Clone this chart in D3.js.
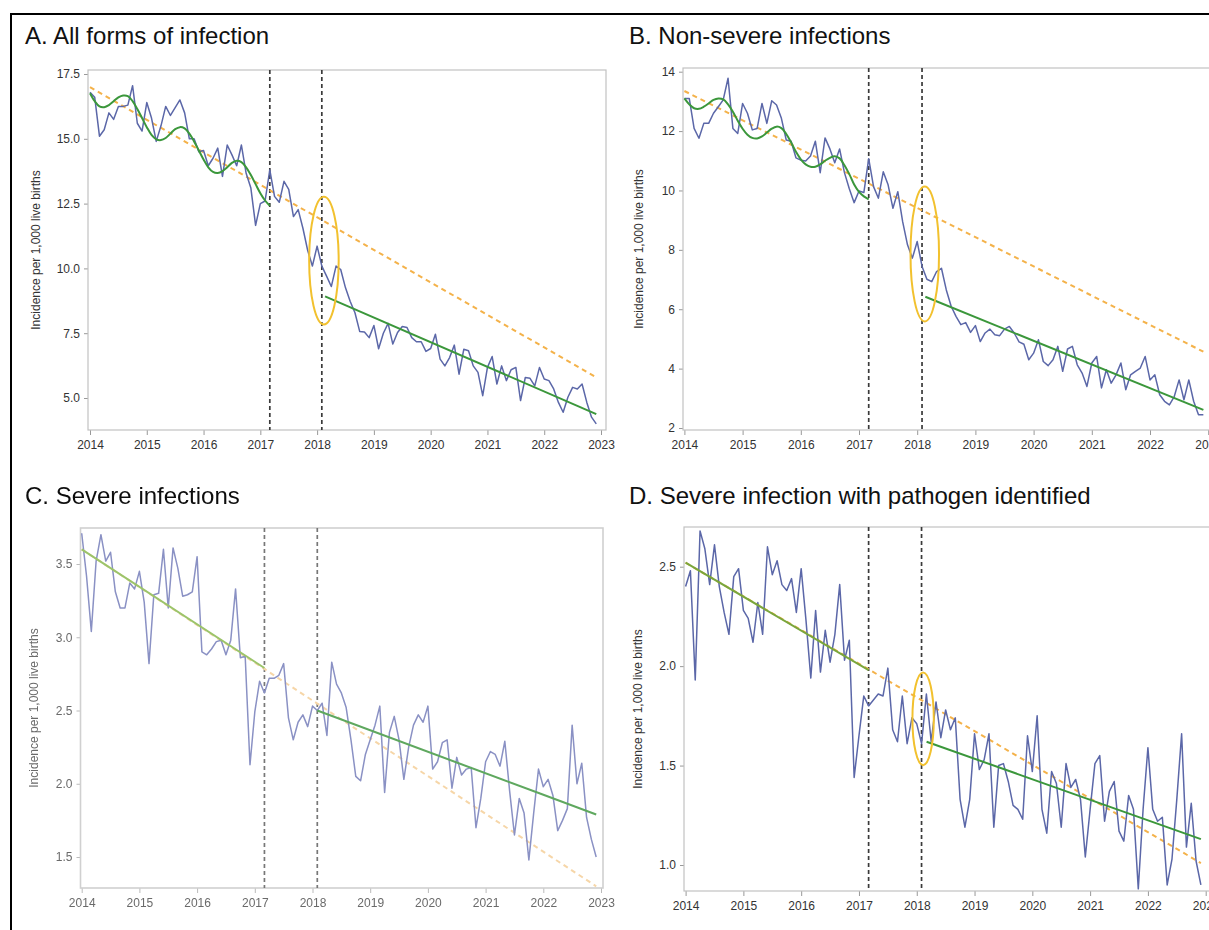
<!DOCTYPE html>
<html>
<head>
  <meta charset="utf-8">
  <title>Incidence per 1,000 live births, interrupted time series</title>
  <style>
    body { margin: 0; background: #fff; }
    svg { display: block; font-family: "Liberation Sans", Arial, sans-serif; }
    .tick text { font-size: 12px; }
  </style>
  <script src="https://cdn.jsdelivr.net/npm/d3@7"></script>
</head>
<body>
<script>
// monthly data, Jan 2014 .. Dec 2022 (108 months)
var monthIndex = d3.range(108);

var aSeries = [
  16.8, 16.6, 15.1, 15.35, 16.0, 15.75, 16.25, 16.25, 16.3, 17.05, 15.6, 15.3,
  16.4, 15.8, 14.9, 15.5, 16.25, 15.9, 16.2, 16.5, 16.0, 15.0, 15.0, 14.5,
  14.55, 13.96, 14.25, 14.64, 13.55, 14.76, 14.38, 13.96, 14.76, 13.67, 13.1, 11.66,
  12.5, 12.6, 13.8, 12.78, 12.55, 13.36, 13.05, 12.0, 12.27, 11.55, 10.7, 10.09,
  10.86, 10.09, 9.7, 9.3, 10.09, 9.95, 9.25, 8.72, 8.29, 7.57, 7.55, 7.33,
  7.8, 6.9, 7.5, 7.88, 7.08, 7.53, 7.76, 7.72, 7.33, 7.17, 7.17, 6.8,
  6.91, 7.46, 6.5, 6.24, 6.56, 7.04, 5.92, 6.88, 6.82, 6.24, 5.99, 5.09,
  6.18, 6.6, 5.54, 6.24, 5.67, 6.09, 6.18, 4.9, 5.79, 5.76, 5.47, 6.18,
  5.73, 5.67, 5.35, 4.83, 4.45, 5.03, 5.41, 5.35, 5.54, 4.83, 4.26, 4.0
];
var bSeries = [
  13.1, 13.1, 12.09, 11.76, 12.26, 12.26, 12.6, 12.82, 13.05, 13.78, 12.09, 11.92,
  12.93, 12.6, 12.04, 12.09, 12.93, 12.26, 13.02, 12.88, 12.43, 11.7, 11.66, 11.1,
  11.02, 10.99, 11.16, 11.66, 10.6, 11.77, 11.4, 10.93, 11.4, 10.6, 10.06, 9.59,
  9.98, 9.93, 11.07, 10.13, 9.74, 10.63, 10.19, 9.4, 9.96, 8.95, 8.17, 7.72,
  8.28, 7.44, 7.01, 6.93, 7.27, 7.38, 6.65, 6.1, 5.76, 5.48, 5.55, 5.22,
  5.45, 4.91, 5.2, 5.33, 5.14, 5.11, 5.33, 5.42, 5.2, 4.9, 4.82, 4.3,
  4.52, 4.97, 4.24, 4.1, 4.3, 4.75, 3.91, 4.66, 4.75, 4.13, 3.85, 3.4,
  4.19, 4.41, 3.35, 3.96, 3.51, 3.79, 4.19, 3.29, 3.79, 3.91, 4.02, 4.41,
  3.62, 3.79, 3.12, 2.9, 2.78, 3.06, 3.62, 2.95, 3.62, 2.9, 2.45, 2.45
];
var cSeries = [
  3.71, 3.42, 3.04, 3.52, 3.70, 3.52, 3.58, 3.31, 3.20, 3.20, 3.37, 3.33,
  3.45, 3.24, 2.82, 3.29, 3.30, 3.60, 3.20, 3.61, 3.47, 3.28, 3.29, 3.31,
  3.55, 2.90, 2.88, 2.92, 2.97, 2.98, 2.88, 2.98, 3.33, 2.86, 2.87, 2.13,
  2.49, 2.70, 2.62, 2.72, 2.72, 2.74, 2.82, 2.45, 2.30, 2.42, 2.47, 2.39,
  2.53, 2.50, 2.55, 2.33, 2.83, 2.68, 2.62, 2.52, 2.30, 2.05, 2.02, 2.20,
  2.30, 2.40, 2.53, 1.94, 2.35, 2.46, 2.30, 2.03, 2.25, 2.40, 2.47, 2.42,
  2.53, 2.10, 2.15, 2.28, 2.30, 1.97, 2.18, 2.06, 2.10, 2.11, 1.70, 1.90,
  2.15, 2.22, 2.20, 2.12, 2.29, 1.95, 1.65, 1.90, 1.80, 1.48, 1.80, 2.10,
  1.98, 2.03, 1.92, 1.68, 1.75, 1.83, 2.40, 2.00, 2.14, 1.77, 1.62, 1.50
];
var dSeries = [
  2.40, 2.48, 1.93, 2.68, 2.59, 2.41, 2.61, 2.40, 2.27, 2.16, 2.45, 2.49,
  2.28, 2.24, 2.12, 2.32, 2.16, 2.60, 2.46, 2.53, 2.41, 2.38, 2.44, 2.27,
  2.49, 2.23, 1.94, 2.28, 1.97, 2.18, 2.02, 2.16, 2.41, 2.03, 2.13, 1.44,
  1.65, 1.85, 1.80, 1.83, 1.86, 1.85, 1.99, 1.68, 1.62, 1.85, 1.61, 1.74,
  1.71, 1.61, 1.86, 1.62, 1.82, 1.64, 1.78, 1.68, 1.74, 1.33, 1.19, 1.33,
  1.66, 1.48, 1.53, 1.66, 1.19, 1.50, 1.51, 1.42, 1.30, 1.28, 1.23, 1.65,
  1.47, 1.75, 1.28, 1.16, 1.47, 1.41, 1.19, 1.51, 1.39, 1.43, 1.33, 1.04,
  1.28, 1.51, 1.55, 1.22, 1.37, 1.42, 1.17, 1.12, 1.35, 1.28, 0.88, 1.28,
  1.59, 1.28, 1.22, 1.24, 0.90, 1.03, 1.33, 1.66, 1.09, 1.31, 1.02, 0.90
];

// seasonal pre-intervention fits (Jan 2014 .. Mar 2017)
var aPreFit = [
  16.76, 16.45, 16.25, 16.22, 16.3, 16.45, 16.6, 16.67, 16.65, 16.45, 16.15, 15.8,
  15.45, 15.15, 14.98, 14.95, 15.03, 15.2, 15.37, 15.45, 15.4, 15.2, 14.9, 14.55,
  14.2, 13.9, 13.72, 13.68, 13.75, 13.9, 14.07, 14.15, 14.1, 13.9, 13.6, 13.25,
  12.9, 12.62, 12.42
];
var bPreFit = [
  13.1, 12.9, 12.77, 12.75, 12.82, 12.93, 13.05, 13.1, 13.07, 12.9, 12.65, 12.35,
  12.08, 11.88, 11.77, 11.75, 11.82, 11.95, 12.08, 12.15, 12.1, 11.9, 11.62, 11.3,
  11.05, 10.88, 10.8, 10.8, 10.88, 11.0, 11.1, 11.15, 11.08, 10.85, 10.55, 10.2,
  9.95, 9.8, 9.7
];
var cPreFit = [[2014, 3.60], [2017.167, 2.79]];
var dPreFit = [[2014, 2.52], [2017.167, 1.98]];

// linear fits: counterfactual (dashed) and post-intervention (solid)
var aCounter = [[2014, 16.99], [2022.917, 5.8]];
var bCounter = [[2014, 13.35], [2022.917, 4.57]];
var cCounter = [[2014, 3.60], [2022.917, 1.30]];
var dCounter = [[2014, 2.52], [2022.917, 1.01]];
var aPost = [[2018.14, 8.92], [2022.917, 4.38]];
var bPost = [[2018.14, 6.42], [2022.917, 2.61]];
var cPost = [[2018.083, 2.50], [2022.917, 1.79]];
var dPost = [[2018.17, 1.62], [2022.917, 1.13]];

// highlighted drop (centre year, centre value, half width in years, half height in units)
var aEllipse = [2018.12, 10.3, 0.26, 2.46];
var bEllipse = [2018.13, 7.86, 0.245, 2.27];
var dEllipse = [2018.11, 1.735, 0.185, 0.233];

var interventions = [2017.167, 2018.083];
var yearTicks = d3.range(2014, 2024);
var aTicks = [5, 7.5, 10, 12.5, 15, 17.5];
var bTicks = [2, 4, 6, 8, 10, 12, 14];
var cTicks = [1.5, 2, 2.5, 3, 3.5];
var dTicks = [1, 1.5, 2, 2.5];

var yLabel = "Incidence per 1,000 live births";

function monthYear(i) { return 2014 + i / 12; }

// panel layout (pixels)
var panels = [
  { id: "a", title: "A. All forms of infection", tx: 25, ty: 44,
    frame: [88, 70, 606, 430], xPx: [90, 601], yPx: [398, 74], yFmt: ".1f", labelX: 36,
    series: aSeries, preFit: aPreFit, counter: aCounter, post: aPost, ellipse: aEllipse, ticks: aTicks },
  { id: "b", title: "B. Non-severe infections", tx: 629, ty: 44,
    frame: [683, 68, 1216, 430], xPx: [684.4, 1208.2], yPx: [428, 71.7], yFmt: "d", labelX: 639,
    series: bSeries, preFit: bPreFit, counter: bCounter, post: bPost, ellipse: bEllipse, ticks: bTicks },
  { id: "c", title: "C. Severe infections", tx: 25, ty: 504,
    frame: [80.5, 528, 603, 888], xPx: [81.7, 601], yPx: [857, 564], yFmt: ".1f", labelX: 34,
    series: cSeries, preFit: cPreFit, counter: cCounter, post: cPost, ellipse: null, ticks: cTicks, faded: true },
  { id: "d", title: "D. Severe infection with pathogen identified", tx: 629, ty: 504,
    frame: [684, 527, 1216, 891], xPx: [685.6, 1205.7], yPx: [865, 566.7], yFmt: ".1f", labelX: 638,
    series: dSeries, preFit: dPreFit, counter: dCounter, post: dPost, ellipse: dEllipse, ticks: dTicks }
];

var svg = d3.select("body").append("svg")
    .attr("width", 1209)
    .attr("height", 930);

var defs = svg.append("defs");
defs.append("filter").attr("id", "soft")
  .append("feGaussianBlur").attr("stdDeviation", 0.55);

svg.append("rect").attr("width", 1209).attr("height", 930).attr("fill", "#fff");

panels.forEach(function(p) {
  var g = svg.append("g").attr("class", "panel-" + p.id);
  if (p.faded) g.attr("filter", "url(#soft)");

  var fx0 = p.frame[0], fy0 = p.frame[1], fx1 = p.frame[2], fy1 = p.frame[3];
  var textCol = p.faded ? "#6a6a6a" : "#333";

  // set the ranges
  var x = d3.scaleLinear().domain([2014, 2023]).range(p.xPx);
  var y = d3.scaleLinear()
      .domain([p.ticks[0], p.ticks[p.ticks.length - 1]])
      .range(p.yPx);

  defs.append("clipPath").attr("id", "clip-" + p.id)
    .append("rect")
      .attr("x", fx0).attr("y", fy0)
      .attr("width", fx1 - fx0).attr("height", fy1 - fy0);

  // title
  g.append("text")
      .attr("x", p.tx).attr("y", p.ty)
      .attr("font-size", "24px")
      .attr("fill", "#111")
      .text(p.title);

  // axes
  var xAxis = g.append("g")
      .attr("transform", "translate(0," + fy1 + ")")
      .call(d3.axisBottom(x).tickValues(yearTicks).tickFormat(d3.format("d"))
        .tickSize(5).tickPadding(5));
  var yAxis = g.append("g")
      .attr("transform", "translate(" + fx0 + ",0)")
      .call(d3.axisLeft(y).tickValues(p.ticks).tickFormat(d3.format(p.yFmt))
        .tickSize(4).tickPadding(4));
  [xAxis, yAxis].forEach(function(ax) {
    ax.select(".domain").remove();
    ax.selectAll("line").attr("stroke", p.faded ? "#bbb" : "#999");
    ax.selectAll("text").attr("fill", textCol).style("font-size", "12px");
  });

  g.append("text")
      .attr("transform", "translate(" + p.labelX + "," + ((fy0 + fy1) / 2) + ") rotate(-90)")
      .attr("text-anchor", "middle")
      .attr("dy", "0.35em")
      .attr("font-size", "12px")
      .attr("fill", textCol)
      .text(yLabel);

  // frame
  g.append("rect")
      .attr("x", fx0).attr("y", fy0)
      .attr("width", fx1 - fx0).attr("height", fy1 - fy0)
      .attr("fill", "none")
      .attr("stroke", p.faded ? "#d0d0d0" : "#c2c2c2")
      .attr("stroke-width", p.faded ? 1.6 : 1.2);

  var plot = g.append("g").attr("clip-path", "url(#clip-" + p.id + ")");

  // intervention lines
  plot.selectAll(".intervention")
      .data(interventions)
      .enter().append("line")
      .attr("class", "intervention")
      .attr("x1", function(d) { return x(d); })
      .attr("x2", function(d) { return x(d); })
      .attr("y1", fy0).attr("y2", fy1)
      .attr("stroke", p.faded ? "#777" : "#3a3a3a")
      .attr("stroke-width", 1.7)
      .attr("stroke-dasharray", "4,3");

  var straight = d3.line()
      .x(function(d) { return x(d[0]); })
      .y(function(d) { return y(d[1]); });

  // counterfactual trend
  plot.append("path")
      .datum(p.counter)
      .attr("d", straight)
      .attr("fill", "none")
      .attr("stroke", p.faded ? "#f6d6a8" : "#f4b24a")
      .attr("stroke-width", 2)
      .attr("stroke-dasharray", "5,4");

  // observed monthly incidence
  var obs = d3.line()
      .x(function(i) { return x(monthYear(i)); })
      .y(function(i) { return y(p.series[i]); });
  plot.append("path")
      .datum(monthIndex)
      .attr("d", obs)
      .attr("fill", "none")
      .attr("stroke", p.faded ? "#8a91c4" : "#5b67a8")
      .attr("stroke-width", 1.5)
      .attr("stroke-linejoin", "round");

  // pre-intervention fit
  var preData = typeof p.preFit[0] === "number"
    ? p.preFit.map(function(v, i) { return [monthYear(i), v]; })
    : p.preFit;
  var preColor = typeof p.preFit[0] === "number" ? "#3b973b" : (p.faded ? "#9cc46a" : "#7aa63c");
  plot.append("path")
      .datum(preData)
      .attr("d", straight.curve(d3.curveCatmullRom))
      .attr("fill", "none")
      .attr("stroke", preColor)
      .attr("stroke-width", 2);
  straight.curve(d3.curveLinear);

  // post-intervention fit
  plot.append("path")
      .datum(p.post)
      .attr("d", straight)
      .attr("fill", "none")
      .attr("stroke", p.faded ? "#5fa85f" : "#3b973b")
      .attr("stroke-width", 2);

  // highlight of the drop
  if (p.ellipse) {
    var e = p.ellipse;
    g.append("ellipse")
        .attr("cx", x(e[0]))
        .attr("cy", y(e[1]))
        .attr("rx", x(e[0] + e[2]) - x(e[0]))
        .attr("ry", y(e[1] - e[3]) - y(e[1]))
        .attr("fill", "none")
        .attr("stroke", "#f2c12e")
        .attr("stroke-width", 2);
  }
});

// outer figure frame
svg.append("path")
    .attr("d", "M11,940 L11,14 L1220,14")
    .attr("fill", "none")
    .attr("stroke", "#000")
    .attr("stroke-width", 2);
</script>
</body>
</html>
